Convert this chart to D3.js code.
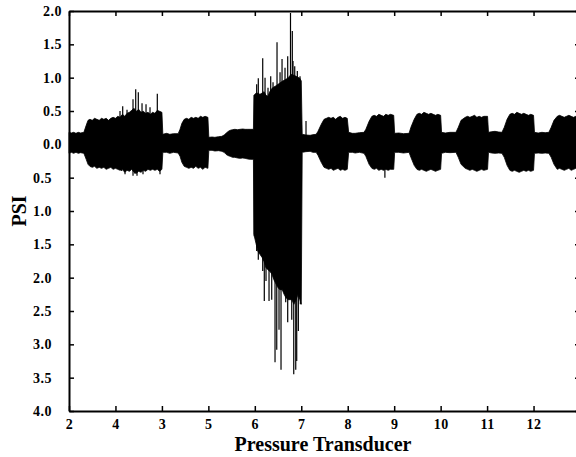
<!DOCTYPE html>
<html>
<head>
<meta charset="utf-8">
<script src="https://cdn.jsdelivr.net/npm/d3@7"></script>
<style>
  body { margin: 0; background: #fff; }
  svg { display: block; }
  text { font-family: "Liberation Serif", "Times New Roman", serif; font-weight: bold; }
</style>
</head>
<body>
<svg width="576" height="457"></svg>
<script>
// tick labels (transducer order as printed on the chart)
const xTickValues = [2, 3, 4, 5, 6, 7, 8, 9, 10, 11, 12];
const xTickLabels = ["2", "4", "3", "5", "6", "7", "8", "9", "10", "11", "12"];
const yTickValues = [2, 1.5, 1, 0.5, 0, -0.5, -1, -1.5, -2, -2.5, -3, -3.5, -4];

// signal envelope (PSI), one line per stretch of trace
const envX = [
  2.00, 2.05, 2.10, 2.15, 2.20, 2.25, 2.32, 2.37, 2.41, 2.45,
  2.50, 2.55, 2.60, 2.65, 2.70, 2.75, 2.80, 2.85, 2.90, 2.95, 3.00, 3.05, 3.10, 3.15, 3.20, 3.25, 3.30, 3.35, 3.40, 3.45, 3.50, 3.55, 3.60, 3.65, 3.70, 3.75, 3.80, 3.85, 3.90, 3.95, 4.00,
  4.02, 4.10, 4.17, 4.25, 4.35, 4.39, 4.43, 4.48,
  4.53, 4.58, 4.63, 4.68, 4.73, 4.78, 4.83, 4.88, 4.93, 4.99,
  5.01, 5.08, 5.14, 5.22, 5.29, 5.34, 5.38, 5.43, 5.47, 5.52, 5.57, 5.63, 5.68, 5.74, 5.79, 5.85, 5.90, 5.97,
  5.98, 6.03, 6.07, 6.11, 6.16, 6.20, 6.24, 6.28, 6.33, 6.37, 6.41, 6.46, 6.50, 6.54, 6.59, 6.63, 6.67, 6.72, 6.76, 6.80, 6.84, 6.89, 6.93, 6.97, 7.00,
  7.02, 7.10, 7.19, 7.25, 7.32, 7.36, 7.43, 7.49,
  7.54, 7.59, 7.64, 7.69, 7.74, 7.79, 7.84, 7.89, 7.94, 7.99,
  8.02, 8.10, 8.16, 8.25, 8.35, 8.39, 8.46, 8.52,
  8.57, 8.62, 8.67, 8.72, 8.77, 8.82, 8.87, 8.92, 8.99,
  9.01, 9.10, 9.20, 9.32, 9.36, 9.43, 9.49,
  9.54, 9.59, 9.64, 9.69, 9.74, 9.79, 9.84, 9.89, 9.94, 10.00,
  10.02, 10.10, 10.20, 10.33, 10.38, 10.44, 10.53,
  10.58, 10.63, 10.68, 10.73, 10.78, 10.83, 10.88, 10.93, 11.01,
  11.03, 11.10, 11.17, 11.25, 11.32, 11.37, 11.43, 11.49,
  11.54, 11.59, 11.64, 11.69, 11.74, 11.79, 11.84, 11.89, 11.94, 12.00,
  12.02, 12.10, 12.18, 12.25, 12.33, 12.38, 12.44, 12.51,
  12.56, 12.61, 12.66, 12.71, 12.76, 12.81, 12.86, 12.91, 13.00];
const envHi = [
  0.18, 0.17, 0.18, 0.165, 0.18, 0.17, 0.18, 0.285, 0.36, 0.375,
  0.36, 0.39, 0.375, 0.36, 0.39, 0.375, 0.39, 0.36, 0.39, 0.405, 0.39, 0.42, 0.405, 0.45, 0.42, 0.465, 0.48, 0.51, 0.54, 0.495, 0.525, 0.48, 0.495, 0.465, 0.48, 0.45, 0.48, 0.465, 0.51, 0.495, 0.48,
  0.15, 0.165, 0.15, 0.16, 0.16, 0.225, 0.315, 0.375,
  0.39, 0.375, 0.405, 0.39, 0.405, 0.39, 0.42, 0.405, 0.42, 0.405,
  0.105, 0.11, 0.105, 0.115, 0.12, 0.14, 0.165, 0.195, 0.21, 0.22, 0.225, 0.22, 0.225, 0.23, 0.225, 0.225, 0.225, 0.225,
  0.735, 0.77, 0.765, 0.75, 0.77, 0.79, 0.735, 0.72, 0.80, 0.84, 0.86, 0.88, 0.90, 0.92, 0.945, 0.96, 0.975, 1.0, 1.035, 1.05, 1.035, 1.02, 1.005, 0.99, 0.95,
  0.15, 0.14, 0.135, 0.145, 0.15, 0.195, 0.30, 0.375,
  0.39, 0.405, 0.39, 0.405, 0.375, 0.405, 0.42, 0.39, 0.405, 0.39,
  0.18, 0.165, 0.165, 0.175, 0.18, 0.225, 0.345, 0.42,
  0.435, 0.42, 0.45, 0.435, 0.42, 0.45, 0.435, 0.45, 0.435,
  0.165, 0.17, 0.16, 0.165, 0.255, 0.375, 0.45,
  0.465, 0.45, 0.48, 0.465, 0.45, 0.465, 0.45, 0.435, 0.45, 0.435,
  0.18, 0.17, 0.18, 0.18, 0.255, 0.36, 0.405,
  0.42, 0.405, 0.42, 0.435, 0.405, 0.42, 0.405, 0.42, 0.42,
  0.18, 0.19, 0.195, 0.185, 0.18, 0.255, 0.375, 0.45,
  0.465, 0.45, 0.48, 0.465, 0.45, 0.465, 0.45, 0.435, 0.45, 0.435,
  0.18, 0.17, 0.18, 0.175, 0.18, 0.255, 0.36, 0.42,
  0.435, 0.42, 0.405, 0.42, 0.435, 0.42, 0.405, 0.42, 0.42];
const envLo = [
  -0.135, -0.12, -0.135, -0.12, -0.135, -0.125, -0.135, -0.225, -0.30, -0.33,
  -0.345, -0.33, -0.36, -0.345, -0.36, -0.345, -0.375, -0.36, -0.345, -0.375, -0.36, -0.375, -0.39, -0.375, -0.42, -0.39, -0.405, -0.375, -0.42, -0.435, -0.405, -0.42, -0.39, -0.405, -0.375, -0.39, -0.375, -0.39, -0.375, -0.405, -0.375,
  -0.12, -0.12, -0.135, -0.12, -0.13, -0.18, -0.27, -0.33,
  -0.345, -0.36, -0.345, -0.36, -0.33, -0.36, -0.345, -0.375, -0.345, -0.36,
  -0.09, -0.09, -0.10, -0.095, -0.105, -0.12, -0.15, -0.17, -0.18, -0.195, -0.195, -0.205, -0.21, -0.205, -0.21, -0.22, -0.225, -0.225,
  -1.35, -1.50, -1.61, -1.65, -1.70, -1.76, -1.85, -1.88, -1.91, -1.95, -2.03, -2.10, -2.15, -2.18, -2.18, -2.25, -2.30, -2.33, -2.33, -2.33, -2.40, -2.33, -2.25, -2.33, -2.40,
  -0.12, -0.11, -0.105, -0.12, -0.12, -0.165, -0.27, -0.345,
  -0.36, -0.375, -0.36, -0.39, -0.375, -0.36, -0.39, -0.375, -0.39, -0.375,
  -0.12, -0.12, -0.13, -0.12, -0.135, -0.18, -0.30, -0.36,
  -0.375, -0.36, -0.39, -0.375, -0.39, -0.375, -0.39, -0.375, -0.375,
  -0.12, -0.12, -0.13, -0.12, -0.195, -0.315, -0.375,
  -0.39, -0.375, -0.39, -0.405, -0.39, -0.375, -0.39, -0.405, -0.39, -0.375,
  -0.135, -0.12, -0.125, -0.12, -0.195, -0.30, -0.36,
  -0.375, -0.39, -0.375, -0.39, -0.405, -0.39, -0.375, -0.39, -0.375,
  -0.12, -0.13, -0.135, -0.13, -0.135, -0.195, -0.315, -0.39,
  -0.405, -0.39, -0.405, -0.42, -0.405, -0.39, -0.405, -0.39, -0.405, -0.39,
  -0.135, -0.13, -0.135, -0.13, -0.135, -0.195, -0.30, -0.375,
  -0.36, -0.375, -0.39, -0.375, -0.36, -0.39, -0.375, -0.36, -0.375];

// single peaks that stick out of the envelope
const spikeX = [3.098, 3.156, 3.249, 3.378, 3.436, 3.492, 3.572, 3.658, 3.744, 3.901,
  6.04, 6.075, 6.17, 6.22, 6.284, 6.342, 6.392, 6.478, 6.543, 6.586, 6.65, 6.708, 6.768, 6.807, 6.822, 6.859, 6.915, 6.973, 7.102,
  3.135, 3.206, 3.378, 3.42, 3.464, 3.593, 3.959,
  5.99, 6.04, 6.075, 6.17, 6.204, 6.241, 6.306, 6.364, 6.435, 6.472, 6.521, 6.564, 6.614, 6.665, 6.708, 6.758, 6.795, 6.838, 6.881, 6.902, 6.937, 6.98, 8.80];
const spikeY = [0.50, 0.57, 0.52, 0.675, 0.825, 0.78, 0.615, 0.60, 0.555, 0.76,
  0.9, 0.99, 1.29, 1.0, 0.85, 1.02, 0.93, 1.53, 1.08, 1.28, 1.15, 1.32, 1.97, 1.70, 1.25, 1.17, 1.10, 1.02, 0.35,
  -0.40, -0.45, -0.47, -0.44, -0.47, -0.45, -0.45,
  -1.38, -1.60, -1.73, -1.90, -2.35, -2.05, -2.35, -2.33, -3.27, -3.08, -2.78, -3.38, -2.18, -2.37, -2.67, -2.22, -2.63, -3.45, -3.38, -3.25, -2.80, -2.40, -0.50];

const svg = d3.select("svg");

const x = d3.scaleLinear().domain([2, 13]).range([69, 580]);
const y = d3.scaleLinear().domain([-4, 2]).range([411, 11]);

const env = envX.map((d, i) => ({ x: d, hi: envHi[i], lo: envLo[i] }));
const spikes = spikeX.map((d, i) => ({ x: d, v: spikeY[i] }));

const area = d3.area()
    .x(d => x(d.x))
    .y0(d => y(d.lo))
    .y1(d => y(d.hi));

svg.append("path")
    .datum(env)
    .attr("d", area)
    .attr("fill", "#000")
    .attr("stroke", "#000")
    .attr("stroke-width", 0.8);

svg.selectAll(".spike")
    .data(spikes)
    .enter()
    .append("line")
    .attr("class", "spike")
    .attr("x1", d => x(d.x))
    .attr("x2", d => x(d.x))
    .attr("y1", y(0))
    .attr("y2", d => y(d.v))
    .attr("stroke", "#000")
    .attr("stroke-width", 1.2);

// axes, ticks pointing inward on all four sides
const axisB = svg.append("g")
    .attr("transform", "translate(0," + y(-4) + ")")
    .call(d3.axisBottom(x).tickValues(xTickValues)
        .tickFormat((d, i) => xTickLabels[i])
        .tickSizeInner(-5).tickSizeOuter(0).tickPadding(8));

const axisT = svg.append("g")
    .attr("transform", "translate(0," + y(2) + ")")
    .call(d3.axisTop(x).tickValues(xTickValues).tickFormat("")
        .tickSizeInner(-5).tickSizeOuter(0));

const axisL = svg.append("g")
    .attr("transform", "translate(" + x(2) + ",0)")
    .call(d3.axisLeft(y).tickValues(yTickValues)
        .tickFormat(d => d3.format(".1f")(Math.abs(d)))
        .tickSizeInner(-5).tickSizeOuter(0).tickPadding(7));

const axisR = svg.append("g")
    .attr("transform", "translate(" + x(13) + ",0)")
    .call(d3.axisRight(y).tickValues(yTickValues).tickFormat("")
        .tickSizeInner(-5).tickSizeOuter(0));

[axisB, axisT, axisL, axisR].forEach(g => {
    g.select(".domain").attr("stroke", "#000").attr("stroke-width", 2);
    g.selectAll(".tick line").attr("stroke", "#000").attr("stroke-width", 1.5);
    g.selectAll(".tick text")
        .attr("fill", "#000")
        .style("font-family", "'Liberation Serif', 'Times New Roman', serif")
        .style("font-weight", "bold")
        .style("font-size", "14px")
        .style("letter-spacing", "0.5px");
});

// labels below zero sit a bit further left
axisL.selectAll(".tick text")
    .attr("x", d => d < 0 ? -17 : -7);

svg.append("text")
    .attr("x", 323)
    .attr("y", 451)
    .attr("text-anchor", "middle")
    .attr("font-size", "20px")
    .text("Pressure Transducer");

svg.append("text")
    .attr("transform", "translate(26,211) rotate(-90)")
    .attr("text-anchor", "middle")
    .attr("font-size", "20px")
    .text("PSI");
</script>
</body>
</html>
